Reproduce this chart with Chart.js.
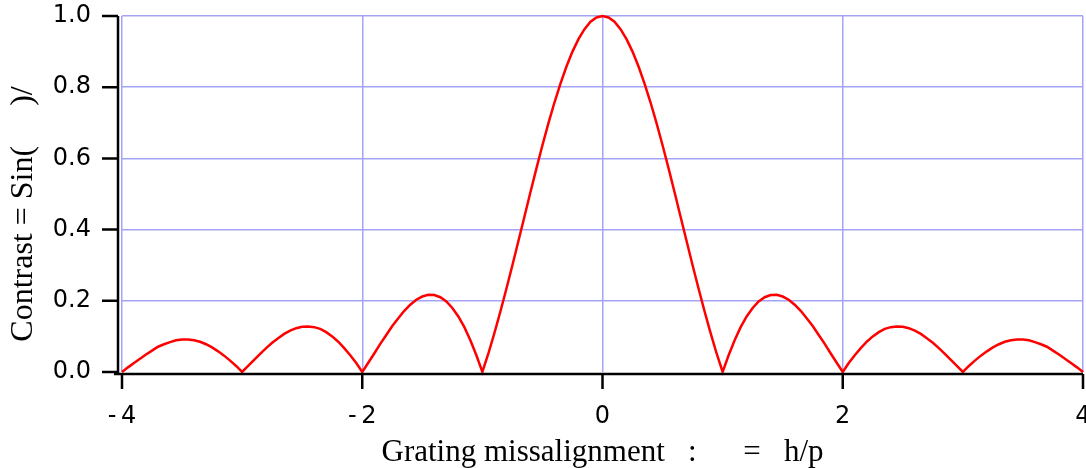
<!DOCTYPE html>
<html lang="en">
<head>
<meta charset="UTF-8">
<title>Grating contrast</title>
<script src="https://cdn.jsdelivr.net/npm/chart.js"></script>
<style>
    html, body { margin: 0; padding: 0; background: #ffffff; }
    canvas { display: block; }
</style>
</head>
<body>
<canvas id="contrastChart" width="1086" height="468"></canvas>
<script>
// DATA
const missalignment = [
    -4.00, -3.95, -3.90, -3.85, -3.80, -3.75, -3.70, -3.65, -3.60, -3.55,
    -3.50, -3.45, -3.40, -3.35, -3.30, -3.25, -3.20, -3.15, -3.10, -3.05,
    -3.00, -2.95, -2.90, -2.85, -2.80, -2.75, -2.70, -2.65, -2.60, -2.55,
    -2.50, -2.45, -2.40, -2.35, -2.30, -2.25, -2.20, -2.15, -2.10, -2.05,
    -2.00, -1.95, -1.90, -1.85, -1.80, -1.75, -1.70, -1.65, -1.60, -1.55,
    -1.50, -1.45, -1.40, -1.35, -1.30, -1.25, -1.20, -1.15, -1.10, -1.05,
    -1.00, -0.95, -0.90, -0.85, -0.80, -0.75, -0.70, -0.65, -0.60, -0.55,
    -0.50, -0.45, -0.40, -0.35, -0.30, -0.25, -0.20, -0.15, -0.10, -0.05,
    0.00,
    0.05, 0.10, 0.15, 0.20, 0.25, 0.30, 0.35, 0.40, 0.45, 0.50,
    0.55, 0.60, 0.65, 0.70, 0.75, 0.80, 0.85, 0.90, 0.95, 1.00,
    1.05, 1.10, 1.15, 1.20, 1.25, 1.30, 1.35, 1.40, 1.45, 1.50,
    1.55, 1.60, 1.65, 1.70, 1.75, 1.80, 1.85, 1.90, 1.95, 2.00,
    2.05, 2.10, 2.15, 2.20, 2.25, 2.30, 2.35, 2.40, 2.45, 2.50,
    2.55, 2.60, 2.65, 2.70, 2.75, 2.80, 2.85, 2.90, 2.95, 3.00,
    3.05, 3.10, 3.15, 3.20, 3.25, 3.30, 3.35, 3.40, 3.45, 3.50,
    3.55, 3.60, 3.65, 3.70, 3.75, 3.80, 3.85, 3.90, 3.95, 4.00
];
const contrast = [
    0.000, 0.013, 0.025, 0.037, 0.049, 0.060, 0.071, 0.078, 0.084, 0.089,
    0.091, 0.091, 0.089, 0.085, 0.078, 0.069, 0.058, 0.046, 0.032, 0.017,
    0.000, 0.017, 0.034, 0.051, 0.067, 0.082, 0.095, 0.107, 0.116, 0.123,
    0.127, 0.128, 0.126, 0.121, 0.112, 0.100, 0.085, 0.067, 0.047, 0.025,
    0.000, 0.026, 0.052, 0.079, 0.104, 0.129, 0.151, 0.172, 0.189, 0.203,
    0.212, 0.217, 0.216, 0.210, 0.198, 0.180, 0.156, 0.126, 0.089, 0.047,
    0.000, 0.052, 0.109, 0.170, 0.234, 0.300, 0.368, 0.436, 0.505, 0.572,
    0.637, 0.699, 0.757, 0.810, 0.858, 0.900, 0.935, 0.963, 0.984, 0.996,
    1.000,
    0.996, 0.984, 0.963, 0.935, 0.900, 0.858, 0.810, 0.757, 0.699, 0.637,
    0.572, 0.505, 0.436, 0.368, 0.300, 0.234, 0.170, 0.109, 0.052, 0.000,
    0.047, 0.089, 0.126, 0.156, 0.180, 0.198, 0.210, 0.216, 0.217, 0.212,
    0.203, 0.189, 0.172, 0.151, 0.129, 0.104, 0.079, 0.052, 0.026, 0.000,
    0.025, 0.047, 0.067, 0.085, 0.100, 0.112, 0.121, 0.126, 0.128, 0.127,
    0.123, 0.116, 0.107, 0.095, 0.082, 0.067, 0.051, 0.034, 0.017, 0.000,
    0.017, 0.032, 0.046, 0.058, 0.069, 0.078, 0.085, 0.089, 0.091, 0.091,
    0.089, 0.084, 0.078, 0.071, 0.060, 0.049, 0.037, 0.025, 0.013, 0.000
];
const xTicks = [-4, -2, 0, 2, 4];
const yTicks = [0.0, 0.2, 0.4, 0.6, 0.8, 1.0];

// the greek letters of the original titles did not render, spaces keep their room
const X_TITLE = 'Grating missalignment   :      =   h/p';
const Y_TITLE = 'Contrast = Sin(     )/     ';

const GRID_COLOR = '#a4a4f6';
const TICK_FONT = { family: 'DejaVu Sans', size: 24 };
const X_TITLE_FONT = { family: 'Liberation Serif', size: 31, lineHeight: 1 };
const Y_TITLE_FONT = { family: 'Liberation Serif', size: 32, lineHeight: 1 };

// chart.js adds tick padding to the scale edges, we want a fixed plot box
function noEdgePadding(s) {
    s.paddingTop = 0; s.paddingBottom = 0; s.paddingLeft = 0; s.paddingRight = 0;
}

// Black axes sit a few pixels outside the plot box, like the original
const offsetAxes = {
    id: 'offsetAxes',
    afterDraw(chart) {
        const { ctx, chartArea, scales } = chart;
        const axisX = chartArea.left - 4;
        const axisY = chartArea.bottom + 2;
        ctx.save();
        ctx.strokeStyle = '#000000';
        ctx.lineWidth = 2.5;
        ctx.beginPath();
        ctx.moveTo(axisX, chartArea.top);
        ctx.lineTo(axisX, axisY);
        ctx.moveTo(axisX - 4, axisY);
        ctx.lineTo(chartArea.right, axisY);
        yTicks.forEach(v => {
            const py = scales.y.getPixelForValue(v);
            ctx.moveTo(axisX - 16, py);
            ctx.lineTo(axisX, py);
        });
        xTicks.forEach(v => {
            const px = scales.x.getPixelForValue(v);
            ctx.moveTo(px, axisY);
            ctx.lineTo(px, axisY + 15);
        });
        ctx.stroke();
        ctx.restore();
    }
};

new Chart(document.getElementById('contrastChart'), {
    type: 'line',
    data: {
        datasets: [{
            data: missalignment.map((x, i) => ({ x: x, y: contrast[i] })),
            borderColor: '#ff0000',
            borderWidth: 2.5,
            pointRadius: 0,
            tension: 0,
            clip: false
        }]
    },
    options: {
        responsive: false,
        animation: false,
        devicePixelRatio: 1,
        layout: { autoPadding: false, padding: { top: 16, right: 3, left: 0, bottom: 0 } },
        plugins: { legend: { display: false }, tooltip: { enabled: false } },
        scales: {
            x: {
                type: 'linear',
                min: -4, max: 4,
                afterFit: s => { s.height = 96; noEdgePadding(s); },
                afterBuildTicks: s => { s.ticks = xTicks.map(v => ({ value: v })); },
                ticks: {
                    color: '#000000', font: TICK_FONT, padding: 30, maxRotation: 0,
                    callback: v => (v < 0 ? '-\u2009' + Math.abs(v) : String(v))
                },
                grid: { color: GRID_COLOR, lineWidth: 1.5, drawTicks: false },
                border: { display: false },
                title: { display: true, text: X_TITLE, color: '#000000', font: X_TITLE_FONT, padding: { top: 1, bottom: 0 } }
            },
            y: {
                min: 0, max: 1,
                afterFit: s => { s.width = 122; noEdgePadding(s); },
                afterBuildTicks: s => { s.ticks = yTicks.map(v => ({ value: v })); },
                ticks: {
                    color: '#000000', font: TICK_FONT, padding: 31,
                    callback: v => v.toFixed(1)
                },
                grid: {
                    color: ctx => (ctx.tick && ctx.tick.value === 0 ? 'rgba(0,0,0,0)' : GRID_COLOR),
                    lineWidth: 1.5, drawTicks: false
                },
                border: { display: false },
                title: { display: true, text: Y_TITLE, color: '#000000', font: Y_TITLE_FONT, padding: { top: 8, bottom: 0 } }
            }
        }
    },
    plugins: [offsetAxes]
});
</script>
</body>
</html>
